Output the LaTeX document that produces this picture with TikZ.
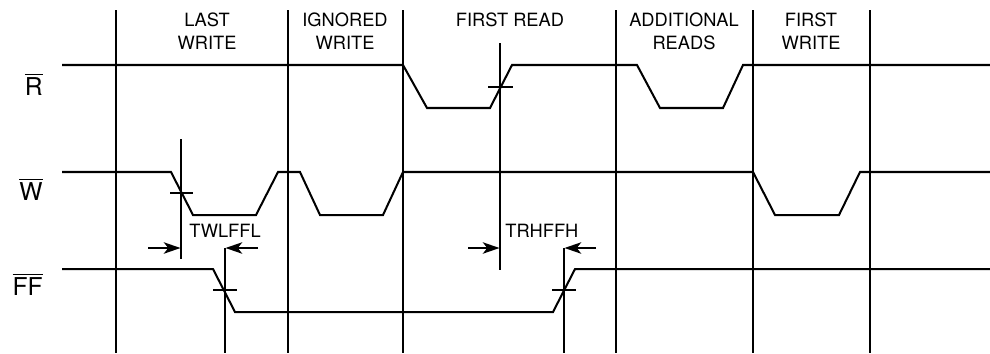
\documentclass[tikz,border=0pt]{standalone}
\usepackage{fontspec}
\setmainfont{TeX Gyre Heros}
\usetikzlibrary{arrows.meta}

\begin{document}
\begin{tikzpicture}[
x=0.02cm,y=-0.02cm,
every node/.style={inner sep=0pt,font=\fontsize{10.4}{13}\selectfont},
phase/.style={anchor=north,align=center},
sig/.style={anchor=base east,font=\fontsize{14}{16}\selectfont},
wave/.style={line width=1.15pt,line join=miter},
grid/.style={line width=1.15pt},
tickline/.style={line width=1pt},
dim/.style={line width=1pt,-{Stealth[length=9.5pt,width=6.5pt,inset=2.5pt]}}
]
\useasboundingbox (0,0) rectangle (990,353);

\node[phase] (lastw) at (207,12.5) {LAST\\WRITE};
\node[phase] (ignw) at (345,12.5) {IGNORED\\WRITE};
\node[phase] (firstr) at (510,12.5) {FIRST READ};
\node[phase] (addr) at (684,12.5) {ADDITIONAL\\READS};
\node[phase] (firstw) at (811,12.5) {FIRST\\WRITE};

\node[sig] (rsig) at (43,95) {$\overline{\hbox{R}}$};
\node[sig] (wsig) at (43,200) {$\overline{\hbox{W}}$};
\node[sig] (ffsig) at (43,295) {$\overline{\hbox{FF}}$};

\draw[grid] (116,10) -- (116,353)
  (288,10) -- (288,353)
  (403,10) -- (403,353)
  (616,10) -- (616,353)
  (753,10) -- (753,353)
  (870,10) -- (870,353);

\draw[wave] (62,65) -- (403,65) -- (427,108) -- (490,108) -- (512,65)
  -- (637,65) -- (660,108) -- (723,108) -- (743,65) -- (990,65);
\draw[wave] (62,172) -- (171,172) -- (193,215) -- (256,215) -- (278,172)
  -- (300,172) -- (320,215) -- (383,215) -- (403,172) -- (753,172)
  -- (775,215) -- (839,215) -- (860,172) -- (990,172);
\draw[wave] (62,269) -- (213,269) -- (235,312) -- (553,312) -- (575,269)
  -- (990,269);

\coordinate (wfall) at (181,193);
\coordinate (ffall) at (225,290);
\coordinate (rrise) at (500,87);
\coordinate (frise) at (564,290);

\draw[tickline] (wfall) ++(-11,0) -- ++(23,0);
\draw[tickline] (ffall) ++(-12,0) -- ++(24,0);
\draw[tickline] (rrise) ++(-12,0) -- ++(25,0);
\draw[tickline] (frise) ++(-12,0) -- ++(24,0);

\draw[tickline] (181,139) -- (181,259);
\draw[tickline] (225,248) -- (225,353);
\draw[tickline] (500,43) -- (500,270);
\draw[tickline] (564,248) -- (564,353);

\coordinate (twl1) at (148,248);
\coordinate (twl2) at (258,248);
\coordinate (trh1) at (468,248);
\coordinate (trh2) at (596,248);

\draw[dim] (twl1) -- (180.5,248);
\draw[dim] (twl2) -- (225.5,248);
\draw[dim] (trh1) -- (499.5,248);
\draw[dim] (trh2) -- (564.5,248);

\node[anchor=base west] (twlffl) at (189,237) {TWLFFL};
\node[anchor=base west] (trhffh) at (505,237) {TRHFFH};
\end{tikzpicture}
\end{document}
